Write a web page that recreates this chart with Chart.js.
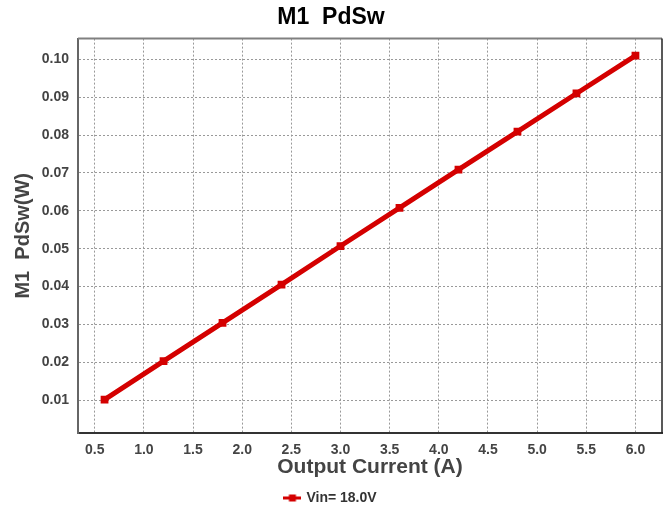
<!DOCTYPE html>
<html><head><meta charset="utf-8">
<script src="https://cdn.jsdelivr.net/npm/chart.js@4/dist/chart.umd.min.js"></script>
<style>html,body{margin:0;padding:0;background:#fff}#wrap{width:670px;height:515px}</style>
</head><body><div id="wrap"><canvas id="c" width="670" height="515"></canvas></div>
<script>
// ---- data ----
const currents = [0.6, 1.2, 1.8, 2.4, 3.0, 3.6, 4.2, 4.8, 5.4, 6.0];
const pdsw = [0.0101, 0.0203, 0.0304, 0.0405, 0.0507, 0.0608, 0.0709, 0.0809, 0.0910, 0.1010];
const xTicks = [0.5, 1.0, 1.5, 2.0, 2.5, 3.0, 3.5, 4.0, 4.5, 5.0, 5.5, 6.0];
const yTicks = [0.01, 0.02, 0.03, 0.04, 0.05, 0.06, 0.07, 0.08, 0.09, 0.10];
const seriesLabel = 'Vin= 18.0V';
const chartTitle = 'M1  PdSw';
const xTitle = 'Output Current (A)';
const yTitle = 'M1  PdSw(W)';

const RED = '#d40000';
const FONT = "'Liberation Sans', Arial, sans-serif";

// legend marker: line with square
const mk = document.createElement('canvas');
mk.width = 18; mk.height = 10;
(function(){
  const g = mk.getContext('2d');
  g.fillStyle = RED;
  g.fillRect(0, 3.5, 18, 3);
  g.fillRect(5.5, 1.5, 7, 7);
})();

const framePlugin = {
  id: 'frame',
  beforeDatasetsDraw(chart) {
    const {ctx, chartArea: a} = chart;
    ctx.save();
    ctx.strokeStyle = '#808080'; ctx.lineWidth = 2;
    ctx.beginPath(); ctx.moveTo(a.left, a.top); ctx.lineTo(a.right, a.top); ctx.stroke();
    ctx.strokeStyle = '#222'; ctx.lineWidth = 1.5;
    ctx.beginPath(); ctx.moveTo(a.right, a.top); ctx.lineTo(a.right, a.bottom); ctx.stroke();
    ctx.restore();
  }
};

new Chart(document.getElementById('c'), {
  type: 'line',
  data: {
    datasets: [{
      label: seriesLabel,
      data: currents.map((x, i) => ({x, y: pdsw[i]})),
      borderColor: RED,
      backgroundColor: RED,
      borderWidth: 5,
      pointStyle: 'rect',
      pointRadius: 5.5,
      pointBorderWidth: 0,
      pointBackgroundColor: RED,
      tension: 0,
      fill: false
    }]
  },
  options: {
    responsive: false,
    animation: false,
    devicePixelRatio: 1,
    layout: {padding: {left: 0, right: 8, top: 0, bottom: 0}},
    plugins: {
      title: {
        display: true, text: chartTitle, color: '#000',
        font: {family: FONT, size: 23, weight: 'bold'},
        padding: {top: 4, bottom: 7}
      },
      legend: {
        display: true, position: 'bottom',
        labels: {
          usePointStyle: true, pointStyleWidth: 14,
          color: '#333', padding: 4,
          font: {family: FONT, size: 14, weight: 'bold'},
          generateLabels(chart) {
            const items = Chart.defaults.plugins.legend.labels.generateLabels(chart);
            items.forEach(it => { it.pointStyle = mk; });
            return items;
          }
        }
      },
      tooltip: {enabled: false}
    },
    scales: {
      x: {
        type: 'linear', min: 0.33, max: 6.27,
        afterBuildTicks(s) { s.ticks = xTicks.map(v => ({value: v})); },
        afterFit(s) { s.height = 54; },
        ticks: {
          color: '#444', padding: 9,
          font: {family: FONT, size: 14, weight: 'bold'},
          callback: v => Number(v).toFixed(1)
        },
        grid: {color: '#999', lineWidth: 1, drawTicks: false},
        border: {color: '#333', width: 2, dash: [2, 2]},
        title: {
          display: true, text: xTitle, color: '#444',
          font: {family: FONT, size: 21, weight: 'bold'},
          padding: {top: 0, bottom: 7}
        }
      },
      y: {
        type: 'linear', min: 0.0013, max: 0.1055,
        afterBuildTicks(s) { s.ticks = yTicks.map(v => ({value: v})); },
        afterFit(s) { s.width = 78; },
        ticks: {
          color: '#444', padding: 9,
          font: {family: FONT, size: 14, weight: 'bold'},
          callback: v => Number(v).toFixed(2)
        },
        grid: {color: '#999', lineWidth: 1, drawTicks: false},
        border: {color: '#666', width: 2, dash: [2, 2]},
        title: {
          display: true, text: yTitle, color: '#444',
          font: {family: FONT, size: 20, weight: 'bold'},
          padding: {top: 11, bottom: 0}
        }
      }
    }
  },
  plugins: [framePlugin]
});
</script>
</body></html>
